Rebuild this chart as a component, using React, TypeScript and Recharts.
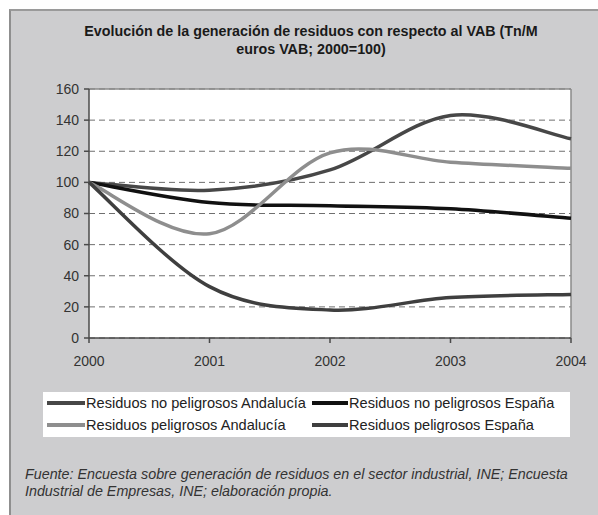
import React from 'react'
import { LineChart, Line, XAxis, YAxis, CartesianGrid, ReferenceLine } from 'recharts'

const YEARS = ['2000', '2001', '2002', '2003', '2004']
const NO_PELIGROSOS_ANDALUCIA = [100, 95, 108, 143, 128]
const NO_PELIGROSOS_ESPANA = [100, 87, 85, 83, 77]
const PELIGROSOS_ANDALUCIA = [100, 67, 119, 113, 109]
const PELIGROSOS_ESPANA = [100, 33, 18, 26, 28]
const Y_TICKS = [0, 20, 40, 60, 80, 100, 120, 140, 160]

const SERIES = [
    { key: 'npa', name: 'Residuos no peligrosos Andalucía', values: NO_PELIGROSOS_ANDALUCIA, color: '#474747' },
    { key: 'npe', name: 'Residuos no peligrosos España', values: NO_PELIGROSOS_ESPANA, color: '#111111' },
    { key: 'pa', name: 'Residuos peligrosos Andalucía', values: PELIGROSOS_ANDALUCIA, color: '#8e8e8e' },
    { key: 'pe', name: 'Residuos peligrosos España', values: PELIGROSOS_ESPANA, color: '#3f3f3f' }
]

const data = YEARS.map((year, i) => {
    const row: any = { year }
    SERIES.forEach(s => { row[s.key] = s.values[i] })
    return row
})

// spreadsheet-style smoothed line (catmull-rom like bezier)
const smoothCurve = (context: any) => {
    let pts: number[][] = []
    return {
        areaStart() {},
        areaEnd() {},
        lineStart() { pts = [] },
        point(x: number, y: number) { pts.push([+x, +y]) },
        lineEnd() {
            if (!pts.length) return
            context.moveTo(pts[0][0], pts[0][1])
            for (let i = 0; i < pts.length - 1; i++) {
                const p0 = pts[i - 1] || pts[i]
                const p1 = pts[i]
                const p2 = pts[i + 1]
                const p3 = pts[i + 2] || pts[i + 1]
                context.bezierCurveTo(
                    p1[0] + (p2[0] - p0[0]) / 6, p1[1] + (p2[1] - p0[1]) / 6,
                    p2[0] - (p3[0] - p1[0]) / 6, p2[1] - (p3[1] - p1[1]) / 6,
                    p2[0], p2[1]
                )
            }
        }
    }
}

const FONT = '"Liberation Sans", Arial, sans-serif'

export default function App() {
    return (
        <div style={{ position: 'absolute', left: 0, top: 0, width: 598, height: 515, background: '#fff', fontFamily: FONT, overflow: 'hidden' }}>
            <div style={{ position: 'absolute', left: 9, top: 9, width: 600, height: 520, background: '#cdcdcf', borderLeft: '2px solid #8f8f8f', borderTop: '2px solid #9a9a9a' }} />
            <div style={{ position: 'absolute', left: 20, top: 22, width: 582, textAlign: 'center', fontSize: 14.3, fontWeight: 'bold', lineHeight: '18px', color: '#1a1a1a' }}>
                Evolución de la generación de residuos con respecto al VAB (Tn/M<br />euros VAB; 2000=100)
            </div>
            <div style={{ position: 'absolute', left: 0, top: 0 }}>
                <LineChart width={598} height={515} data={data} margin={{ top: 89, right: 27, left: 39, bottom: 147 }}>
                    <CartesianGrid fill="#ffffff" vertical={false} stroke="#6f6f6f" strokeDasharray="6 4" strokeWidth={1} />
                    <ReferenceLine y={160} stroke="#8a8a8a" strokeWidth={1.5} />
                    <ReferenceLine x="2004" stroke="#8a8a8a" strokeWidth={1.5} />
                    <XAxis
                        dataKey="year"
                        stroke="#4a4a4a"
                        strokeWidth={1.5}
                        tickSize={5}
                        tickMargin={13}
                        tick={{ fill: '#333', fontSize: 14, fontFamily: FONT }}
                        interval={0}
                        height={30}
                    />
                    <YAxis
                        domain={[0, 160]}
                        ticks={Y_TICKS}
                        stroke="#4a4a4a"
                        strokeWidth={1.5}
                        tickSize={5}
                        tickMargin={5}
                        width={50}
                        interval={0}
                        tick={{ fill: '#333', fontSize: 14, fontFamily: FONT }}
                    />
                    {SERIES.map(s => (
                        <Line
                            key={s.key}
                            dataKey={s.key}
                            name={s.name}
                            type={smoothCurve as any}
                            stroke={s.color}
                            strokeWidth={3.5}
                            dot={false}
                            activeDot={false}
                            isAnimationActive={false}
                        />
                    ))}
                </LineChart>
            </div>
            <div style={{ position: 'absolute', left: 43, top: 392, width: 527, height: 45, background: '#fff', fontSize: 14.6, color: '#222' }}>
                {SERIES.map((s, i) => (
                    <div key={s.key} style={{ position: 'absolute', left: i % 2 === 0 ? 4 : 269, top: i < 2 ? 1 : 23, display: 'flex', alignItems: 'center', height: 20, whiteSpace: 'nowrap' }}>
                        <span style={{ display: 'inline-block', width: i % 2 === 0 ? 38 : 36, height: 3.5, background: s.color, marginRight: 1 }} />
                        <span>{s.name}</span>
                    </div>
                ))}
            </div>
            <div style={{ position: 'absolute', left: 25, top: 466, width: 572, fontSize: 14.3, fontStyle: 'italic', lineHeight: '17px', color: '#333', whiteSpace: 'nowrap' }}>
                Fuente: Encuesta sobre generación de residuos en el sector industrial, INE; Encuesta<br />Industrial de Empresas, INE; elaboración propia.
            </div>
        </div>
    )
}
